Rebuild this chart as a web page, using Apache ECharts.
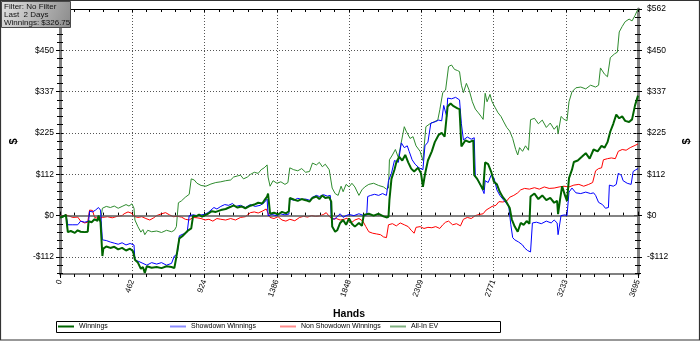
<!DOCTYPE html>
<html><head><meta charset="utf-8">
<script src="https://cdn.jsdelivr.net/npm/echarts@6/dist/echarts.min.js"></script>
<style>html,body{margin:0;padding:0;background:#fff}#c{width:700px;height:341px}</style>
</head><body><div id="c"></div>
<script>
// ---- data: [hand, dollars] ----
const winnings = [[0,-5],[19,-3],[38,2],[44,0],[50,-45],[69,-42],[95,-47],[113,-40],[132,-44],[158,-45],[177,-44],[183,-15],[202,-18],[221,-10],[240,-14],[246,0],[259,-18],[265,-15],[271,-110],[277,-90],[296,-84],[322,-88],[347,-85],[372,-92],[397,-88],[422,-95],[448,-90],[467,-97],[479,-120],[498,-128],[517,-145],[530,-140],[542,-156],[555,-138],[586,-142],[618,-140],[649,-143],[681,-138],[713,-140],[731,-143],[744,-112],[763,-62],[782,-56],[801,-48],[820,-40],[839,-35],[851,0],[870,-2],[889,3],[908,-3],[921,0],[946,5],[971,12],[996,10],[1028,15],[1059,18],[1091,24],[1110,28],[1135,22],[1160,25],[1185,20],[1217,27],[1242,30],[1267,35],[1293,33],[1312,45],[1324,52],[1330,60],[1343,5],[1368,8],[1394,3],[1419,10],[1444,6],[1463,12],[1469,48],[1494,44],[1520,40],[1545,45],[1570,42],[1595,38],[1614,48],[1639,52],[1658,45],[1677,55],[1696,48],[1721,50],[1734,38],[1740,-30],[1759,-44],[1772,-40],[1791,-20],[1810,-12],[1829,-25],[1848,-8],[1866,-22],[1885,-30],[1911,-20],[1930,-28],[1942,2],[1974,5],[2005,0],[2037,5],[2068,-2],[2087,-5],[2100,-3],[2106,43],[2119,100],[2138,125],[2150,145],[2169,160],[2188,150],[2207,165],[2226,145],[2245,128],[2264,120],[2289,130],[2308,115],[2320,78],[2333,112],[2352,150],[2377,175],[2396,200],[2421,220],[2440,225],[2459,215],[2478,297],[2497,305],[2516,298],[2541,292],[2554,290],[2566,188],[2592,205],[2617,200],[2642,205],[2648,110],[2667,100],[2686,85],[2705,70],[2718,145],[2737,140],[2756,120],[2774,92],[2793,85],[2812,64],[2831,50],[2850,40],[2875,21],[2888,-10],[2907,-30],[2926,-44],[2945,-20],[2964,-25],[2983,-15],[3001,-22],[3008,52],[3033,60],[3058,45],[3083,55],[3109,42],[3134,48],[3159,35],[3178,40],[3184,4],[3197,45],[3210,80],[3228,55],[3241,40],[3254,102],[3273,125],[3285,146],[3310,150],[3336,160],[3361,170],[3386,155],[3411,180],[3437,175],[3462,190],[3481,185],[3500,200],[3518,229],[3537,250],[3556,275],[3575,265],[3594,270],[3613,258],[3638,255],[3657,262],[3676,300],[3695,326.75]];

const showdown = [[0,-5],[19,-3],[38,2],[44,0],[50,-25],[82,-25],[113,-25],[132,-15],[158,-18],[183,-15],[189,12],[208,10],[227,15],[246,22],[259,15],[271,-66],[296,-68],[322,-72],[347,-75],[372,-78],[397,-74],[422,-80],[448,-76],[473,-80],[479,-121],[504,-125],[530,-130],[555,-135],[586,-128],[618,-132],[649,-128],[681,-135],[713,-130],[731,-110],[750,-105],[763,-55],[788,-50],[813,-45],[826,0],[851,2],[876,0],[902,2],[921,3],[946,8],[965,15],[984,22],[1003,18],[1028,25],[1053,30],[1078,28],[1103,33],[1122,25],[1154,28],[1185,22],[1217,30],[1248,25],[1280,28],[1305,35],[1324,45],[1330,0],[1356,3],[1381,0],[1406,5],[1438,2],[1463,4],[1469,45],[1494,42],[1520,47],[1545,44],[1570,45],[1595,42],[1614,50],[1639,55],[1658,52],[1684,57],[1709,53],[1728,55],[1734,-5],[1753,-10],[1772,-3],[1791,5],[1810,-5],[1829,0],[1848,3],[1879,0],[1911,5],[1942,0],[1961,2],[1967,52],[1986,55],[2011,58],[2037,55],[2062,60],[2087,55],[2100,95],[2119,115],[2138,150],[2163,145],[2182,198],[2201,185],[2220,190],[2232,175],[2251,152],[2270,140],[2295,130],[2320,125],[2333,190],[2352,200],[2371,252],[2396,255],[2421,260],[2440,258],[2453,300],[2472,270],[2478,320],[2503,318],[2529,322],[2554,315],[2566,250],[2579,206],[2604,214],[2629,208],[2648,212],[2655,105],[2674,95],[2692,80],[2711,60],[2718,95],[2737,90],[2756,110],[2774,103],[2793,70],[2812,55],[2831,45],[2850,35],[2869,25],[2882,-25],[2894,-60],[2907,-66],[2932,-72],[2957,-80],[2970,-88],[2989,-95],[3008,-99],[3020,-20],[3046,-18],[3077,-22],[3109,-15],[3140,-20],[3159,-12],[3178,-20],[3184,-52],[3203,0],[3228,2],[3241,0],[3254,64],[3273,75],[3298,62],[3329,60],[3361,64],[3392,60],[3411,62],[3424,55],[3443,36],[3468,30],[3487,20],[3506,22],[3512,83],[3537,80],[3556,85],[3569,115],[3588,110],[3600,95],[3626,88],[3651,85],[3664,120],[3682,125],[3695,128]];

const nonShowdown = [[0,0],[19,-2],[38,2],[50,-3],[82,-5],[113,-4],[132,-15],[158,-20],[177,-18],[189,15],[208,14],[221,-5],[246,-8],[271,-5],[303,-3],[334,-6],[366,-2],[397,0],[410,5],[435,10],[460,6],[473,-2],[498,-5],[523,-3],[549,-8],[574,-12],[599,-6],[618,0],[649,5],[675,8],[700,2],[725,-3],[750,-2],[776,-4],[801,-10],[826,-12],[851,-5],[876,-6],[902,-8],[927,-12],[952,-10],[977,-15],[1003,-8],[1028,-10],[1059,-12],[1091,-8],[1122,-12],[1154,-5],[1185,-3],[1217,8],[1242,10],[1267,7],[1293,12],[1318,18],[1330,15],[1343,-5],[1368,-8],[1394,-3],[1419,-12],[1444,-15],[1469,-10],[1501,-14],[1532,-5],[1557,-2],[1583,-4],[1608,0],[1633,-2],[1658,-1],[1684,3],[1702,8],[1721,-2],[1740,-10],[1766,-8],[1791,-12],[1816,-10],[1835,-7],[1860,-20],[1885,-12],[1911,-8],[1936,-15],[1955,-30],[1974,-44],[1999,-48],[2024,-50],[2049,-52],[2068,-58],[2087,-60],[2100,-25],[2125,-22],[2150,-28],[2175,-20],[2201,-25],[2226,-30],[2245,-40],[2264,-48],[2276,-32],[2302,-30],[2327,-35],[2352,-32],[2377,-33],[2402,-30],[2428,-35],[2447,-25],[2465,-18],[2484,-15],[2510,-25],[2535,-22],[2560,-28],[2579,-10],[2604,-5],[2629,-8],[2655,0],[2680,3],[2705,5],[2724,15],[2743,20],[2762,25],[2787,28],[2806,38],[2831,37],[2856,40],[2875,50],[2901,55],[2926,62],[2945,70],[2970,74],[3001,72],[3033,76],[3064,72],[3096,78],[3127,74],[3159,75],[3191,78],[3222,80],[3254,78],[3285,83],[3317,85],[3348,80],[3380,85],[3405,90],[3424,122],[3443,128],[3462,130],[3474,152],[3500,155],[3525,157],[3550,155],[3569,175],[3594,180],[3619,178],[3645,185],[3670,190],[3695,195]];

const allInEV = [[0,-5],[19,-3],[38,2],[44,0],[50,-45],[69,-42],[95,-47],[113,-40],[132,-44],[158,-45],[177,-44],[183,-15],[202,-18],[221,-10],[240,-14],[246,0],[259,-15],[271,20],[296,25],[322,22],[347,26],[372,20],[397,25],[422,30],[441,26],[460,32],[473,20],[479,-12],[498,-30],[517,-45],[530,-38],[542,-52],[561,-40],[586,-44],[618,-42],[649,-46],[681,-40],[713,-44],[731,-40],[744,-30],[757,35],[776,40],[801,50],[826,58],[839,100],[858,97],[876,88],[902,82],[933,80],[965,86],[996,90],[1028,92],[1059,95],[1091,97],[1110,105],[1135,108],[1154,110],[1173,100],[1198,105],[1217,112],[1242,118],[1267,115],[1286,125],[1305,130],[1324,138],[1330,105],[1343,80],[1362,95],[1387,88],[1412,92],[1438,85],[1457,90],[1469,130],[1494,125],[1520,122],[1545,128],[1570,118],[1595,120],[1614,143],[1639,138],[1658,145],[1677,133],[1696,140],[1721,125],[1740,75],[1759,60],[1778,55],[1797,80],[1810,65],[1829,85],[1848,78],[1866,88],[1885,78],[1911,55],[1930,70],[1948,78],[1974,85],[2005,88],[2037,82],[2068,78],[2087,72],[2100,75],[2106,152],[2125,165],[2144,180],[2163,158],[2182,200],[2201,242],[2213,230],[2238,210],[2257,215],[2276,190],[2302,175],[2320,150],[2339,242],[2365,250],[2390,255],[2415,260],[2428,288],[2447,335],[2465,342],[2484,406],[2503,410],[2522,398],[2541,395],[2554,392],[2566,355],[2579,335],[2598,360],[2617,340],[2636,310],[2655,290],[2674,280],[2692,270],[2705,262],[2718,333],[2730,310],[2749,330],[2762,310],[2781,295],[2800,280],[2819,270],[2837,255],[2856,240],[2875,230],[2894,210],[2913,180],[2926,165],[2938,185],[2957,175],[2976,190],[2995,178],[3008,261],[3033,265],[3058,250],[3083,260],[3109,240],[3134,252],[3159,235],[3178,245],[3184,222],[3203,270],[3222,262],[3241,258],[3254,310],[3273,337],[3298,348],[3329,350],[3361,345],[3392,355],[3424,350],[3443,355],[3455,402],[3481,385],[3500,378],[3518,430],[3544,440],[3563,445],[3575,500],[3594,515],[3613,528],[3638,535],[3657,530],[3676,545],[3695,562.5]];

const seriesNames = ['Winnings','Showdown Winnings','Non Showdown Winnings','All-In EV'];
const xTickLabels = ['0','462','924','1386','1848','2309','2771','3233','3695'];
const yTickValues = [-112.5,0,112.5,225,337.5,450,562.5];
const yTickLabels = ['-$112','$0','$112','$225','$337','$450','$562'];
const infoLines = ['Filter: No Filter','Last  2 Days','Winnings: $326.75'];

// ---- chart ----
const FONT = 'Liberation Sans, Arial, sans-serif';
const X_MIN = 0, X_MAX = 3695, X_STEP = 461.875;
const Y_MIN = -159, Y_MAX = 562.5;
const yMinor = [];
for (let v = -157.5; v <= 562.5; v += 22.5) { if (!yTickValues.includes(v)) yMinor.push(v); }

function yAxisBase(pos, extra) {
  return Object.assign({
    type: 'value', min: Y_MIN, max: Y_MAX, position: pos,
    splitLine: {show: false}, axisLine: {show: false},
    axisLabel: {show: false}, axisTick: {show: false}, minorTick: {show: false}
  }, extra);
}
const yLabelFmt = v => { const i = yTickValues.indexOf(v); return i >= 0 ? yTickLabels[i] : ''; };
const yAxes = [];
['left','right'].forEach(pos => {
  yAxes.push(yAxisBase(pos, {
    axisLine: {show: true, onZero: false, lineStyle: {color: '#808080', width: 3}},
    axisTick: {show: true, customValues: yTickValues, length: 4, lineStyle: {color: '#000', width: 1}},
    axisLabel: {show: true, customValues: yTickValues, formatter: yLabelFmt, fontSize: 8.5, color: '#000', fontFamily: FONT, margin: pos === 'left' ? 6 : 9},
    name: '$', nameLocation: 'middle', nameGap: pos === 'left' ? 41 : 43, nameRotate: 90,
    nameTextStyle: {fontSize: 11, fontWeight: 'bold', color: '#000', fontFamily: FONT}
  }));
  yAxes.push(yAxisBase(pos, {axisTick: {show: true, inside: true, customValues: yTickValues, length: 4, lineStyle: {color: '#000'}}}));
  yAxes.push(yAxisBase(pos, {axisTick: {show: true, customValues: yMinor, length: 3, lineStyle: {color: '#000'}}}));
  yAxes.push(yAxisBase(pos, {axisTick: {show: true, inside: true, customValues: yMinor, length: 3, lineStyle: {color: '#000'}}}));
});

function xAxisBase(pos, extra) {
  return Object.assign({
    type: 'value', min: X_MIN, max: X_MAX, interval: X_STEP, position: pos,
    splitLine: {show: false}, axisLine: {show: false}, axisLabel: {show: false},
    axisTick: {show: false}, minorTick: {show: false}
  }, extra);
}
const xAxes = [
  xAxisBase('bottom', {
    axisLine: {show: true, onZero: false, lineStyle: {color: '#808080', width: 2}},
    axisTick: {show: true, length: 4, lineStyle: {color: '#000'}},
    minorTick: {show: true, splitNumber: 5, length: 3, lineStyle: {color: '#000'}},
    axisLabel: {show: true, rotate: 70, fontSize: 8, color: '#000', fontFamily: FONT, margin: 6,
      formatter: v => xTickLabels[Math.round(v / X_STEP)] || ''},
    splitLine: {show: true, lineStyle: {color: '#555', width: 1, type: [1, 2]}},
    name: 'Hands', nameLocation: 'middle', nameGap: 35,
    nameTextStyle: {fontSize: 10.5, fontWeight: 'bold', color: '#000', fontFamily: FONT}
  }),
  xAxisBase('bottom', {
    axisTick: {show: true, inside: true, length: 4, lineStyle: {color: '#000'}},
    minorTick: {show: true, splitNumber: 5, length: 3, lineStyle: {color: '#000'}}
  }),
  xAxisBase('top', {
    axisLine: {show: true, onZero: false, lineStyle: {color: '#000', width: 1}},
    axisTick: {show: true, inside: true, length: 3, lineStyle: {color: '#000'}},
    minorTick: {show: true, splitNumber: 5, length: 3, lineStyle: {color: '#000'}}
  })
];

const lineColors = ['#006400', '#0000ff', '#ff0000', '#2e8b2e'];
const lineWidths = [2, 1, 1, 1];
const legendColors = ['#006400', '#8c8cff', '#ff8c8c', '#80b080'];
const legendLefts = [58, 170, 280, 390];
const seriesData = [winnings, showdown, nonShowdown, allInEV];

const gridMarks = yTickValues.filter(v => v !== 0 && v < Y_MAX).map(v => ({yAxis: v}));
gridMarks.push({yAxis: 0, lineStyle: {color: '#5a5a5a', width: 1.6, type: 'solid'}});

const series = [{
  name: '_grid', type: 'line', data: [], z: 1, silent: true,
  markLine: {silent: true, symbol: 'none', label: {show: false}, animation: false,
    lineStyle: {color: '#555', width: 1, type: [1, 2]}, data: gridMarks}
}];
[3, 2, 1, 0].forEach(i => {
  series.push({
    name: seriesNames[i], type: 'line', data: seriesData[i], symbol: 'none', showSymbol: false,
    lineStyle: {color: lineColors[i], width: lineWidths[i]}, itemStyle: {color: lineColors[i]},
    z: 3 + (3 - i), animation: false
  });
});

const legends = seriesNames.map((n, i) => ({
  left: legendLefts[i], top: 323, padding: 0, itemWidth: 16, itemHeight: 2, icon: 'rect',
  selectedMode: false, data: [{name: n, itemStyle: {color: legendColors[i]}}],
  textStyle: {fontSize: 7, color: '#000', fontFamily: FONT, padding: [0, 0, 0, 0]}
}));

const infoChildren = [
  {type: 'rect', z: 200, shape: {x: 1.5, y: 1.5, width: 69, height: 26},
   style: {fill: new echarts.graphic.LinearGradient(0, 0, 1, 1, [
     {offset: 0, color: '#e2e2e2'}, {offset: 1, color: '#8a8a8a'}]), stroke: '#4a4a4a', lineWidth: 1}}
].concat(infoLines.map((t, i) => ({
  type: 'text', z: 201, style: {x: 4, y: 3 + i * 8, text: t, fill: '#111', font: '8px ' + FONT}
})));

const chart = echarts.init(document.getElementById('c'), null, {renderer: 'canvas'});
chart.setOption({
  animation: false,
  backgroundColor: '#fff',
  grid: {left: 57, right: 57, top: 9, bottom: 67, containLabel: false},
  xAxis: xAxes,
  yAxis: yAxes,
  legend: legends,
  series: series,
  graphic: [
    {type: 'rect', z: 100, shape: {x: 56.5, y: 321.5, width: 444, height: 11},
     style: {fill: 'none', stroke: '#000', lineWidth: 1}},
    {type: 'rect', z: 100, shape: {x: 0.5, y: 0.5, width: 699, height: 339.5},
     style: {fill: 'none', stroke: '#333', lineWidth: 1.2}}
  ].concat(infoChildren)
});
</script>
</body></html>
